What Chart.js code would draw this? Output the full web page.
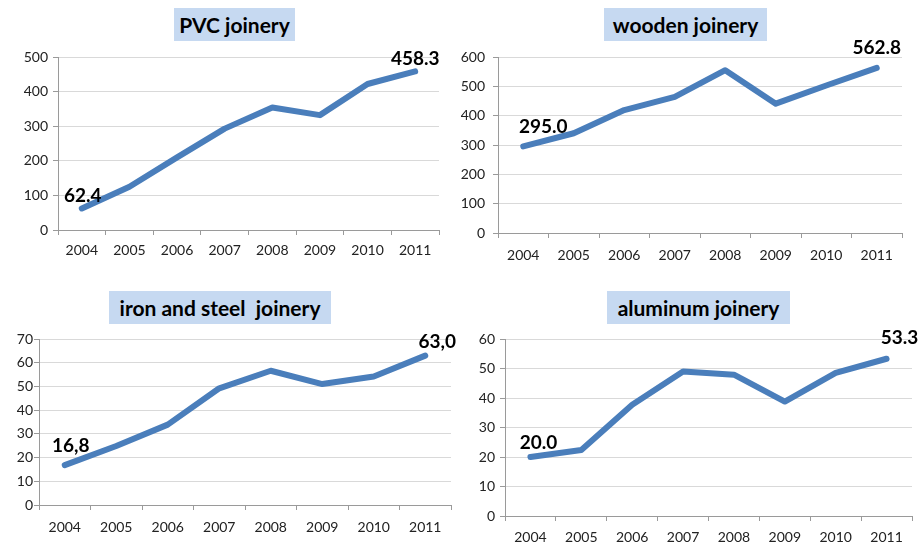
<!DOCTYPE html>
<html>
<head>
<meta charset="utf-8">
<script src="https://cdn.jsdelivr.net/npm/chart.js@4/dist/chart.umd.min.js"></script>
<style>
  body { margin: 0; background: #fff; }
  #board { position: relative; width: 920px; height: 544px; overflow: hidden; }
  .panel { position: absolute; }
  .title {
    position: absolute;
    background: #c6d9f1;
    font: bold 21px Lato, sans-serif;
    color: #000;
    text-align: center;
    line-height: 33px;
    height: 33px;
  }
</style>
</head>
<body>
<div id="board">
  <div class="title" style="left:174px;top:8px;width:121px;">PVC joinery</div>
  <div class="title" style="left:604px;top:8px;width:163px;">wooden joinery</div>
  <div class="title" style="left:109px;top:291px;width:222px;">iron and steel&nbsp; joinery</div>
  <div class="title" style="left:607px;top:291px;width:183px;">aluminum joinery</div>
  <canvas class="panel" id="pvc" width="460" height="240" style="left:0;top:30px"></canvas>
  <canvas class="panel" id="wooden" width="460" height="240" style="left:460px;top:30px"></canvas>
  <canvas class="panel" id="iron" width="460" height="224" style="left:0;top:320px"></canvas>
  <canvas class="panel" id="aluminum" width="460" height="224" style="left:460px;top:320px"></canvas>
</div>
<script>
const years = ["2004", "2005", "2006", "2007", "2008", "2009", "2010", "2011"];

const pvcValues = [62.4, 125, 210, 293, 354, 332, 422, 458.3];
const woodenValues = [295.0, 340, 419, 464, 555, 441, 503, 562.8];
const ironValues = [16.8, 24.9, 33.9, 49.2, 56.6, 51.0, 54.2, 63.0];
const aluminumValues = [20.0, 22.4, 37.7, 49.0, 47.9, 38.8, 48.5, 53.3];

// y axis ranges: min, max, step per chart
const pvcAxis = [0, 500, 100];
const woodenAxis = [0, 600, 100];
const ironAxis = [0, 70, 10];
const aluminumAxis = [0, 60, 10];

const lineColor = "#4a7ebb";
const gridColor = "#d9d9d9";
const axisColor = "#9a9a9a";

// first / last value labels
const endLabels = {
  id: "endLabels",
  afterDatasetsDraw(chart, args, opts) {
    const { ctx } = chart;
    const meta = chart.getDatasetMeta(0);
    const data = chart.data.datasets[0].data;
    ctx.save();
    ctx.font = "bold 19px Lato, sans-serif";
    ctx.fillStyle = "#000";
    ctx.textAlign = "center";
    ctx.textBaseline = "alphabetic";
    [0, data.length - 1].forEach((i, k) => {
      const pt = meta.data[i];
      const off = opts.offsets[k];
      let txt = data[i].toFixed(1);
      if (opts.comma) txt = txt.replace(".", ",");
      ctx.fillText(txt, pt.x + off[0], pt.y + off[1]);
    });
    ctx.restore();
  },
};

function makeChart(id, values, axis, cfg) {
  new Chart(document.getElementById(id), {
    type: "line",
    data: {
      labels: years,
      datasets: [{
        data: values,
        borderColor: lineColor,
        borderWidth: 6,
        borderCapStyle: "round",
        borderJoinStyle: "round",
        pointRadius: 0,
        tension: 0,
      }],
    },
    options: {
      responsive: false,
      animation: false,
      layout: { padding: { left: 0, top: cfg.top, right: cfg.right, bottom: 0 } },
      plugins: {
        legend: { display: false },
        tooltip: { enabled: false },
        endLabels: { offsets: cfg.offsets, comma: cfg.comma },
      },
      scales: {
        x: {
          offset: true,
          grid: { offset: true, drawOnChartArea: false, color: axisColor, tickLength: 5 },
          border: { color: axisColor },
          ticks: { color: "#222", font: { family: "Lato", size: 14 }, padding: cfg.xPad, maxRotation: 0, autoSkip: false },
          afterFit: (s) => { s.height = cfg.xH; },
        },
        y: {
          min: axis[0],
          max: axis[1],
          ticks: { stepSize: axis[2], color: "#222", font: { family: "Lato", size: 14 }, padding: cfg.yPad },
          grid: { color: gridColor, tickLength: 5, tickColor: axisColor },
          border: { color: axisColor },
          afterFit: (s) => { s.width = cfg.yW; },
        },
      },
    },
    plugins: [endLabels],
  });
}

makeChart("pvc", pvcValues, pvcAxis, {
  top: 27, right: 21, yW: 58, xH: 40, xPad: 7, yPad: 5, comma: false,
  offsets: [[1, -6], [0, -6]],
});
makeChart("wooden", woodenValues, woodenAxis, {
  top: 27, right: 18, yW: 38, xH: 37, xPad: 9, yPad: 8, comma: false,
  offsets: [[20, -13], [0, -14]],
});
makeChart("iron", ironValues, ironAxis, {
  top: 19, right: 9, yW: 39, xH: 39, xPad: 9, yPad: 1, comma: true,
  offsets: [[6, -13], [12, -8]],
});
makeChart("aluminum", aluminumValues, aluminumAxis, {
  top: 19, right: 8, yW: 45, xH: 28, xPad: 8, yPad: 5, comma: false,
  offsets: [[8, -8], [13, -15]],
});
</script>
</body>
</html>
